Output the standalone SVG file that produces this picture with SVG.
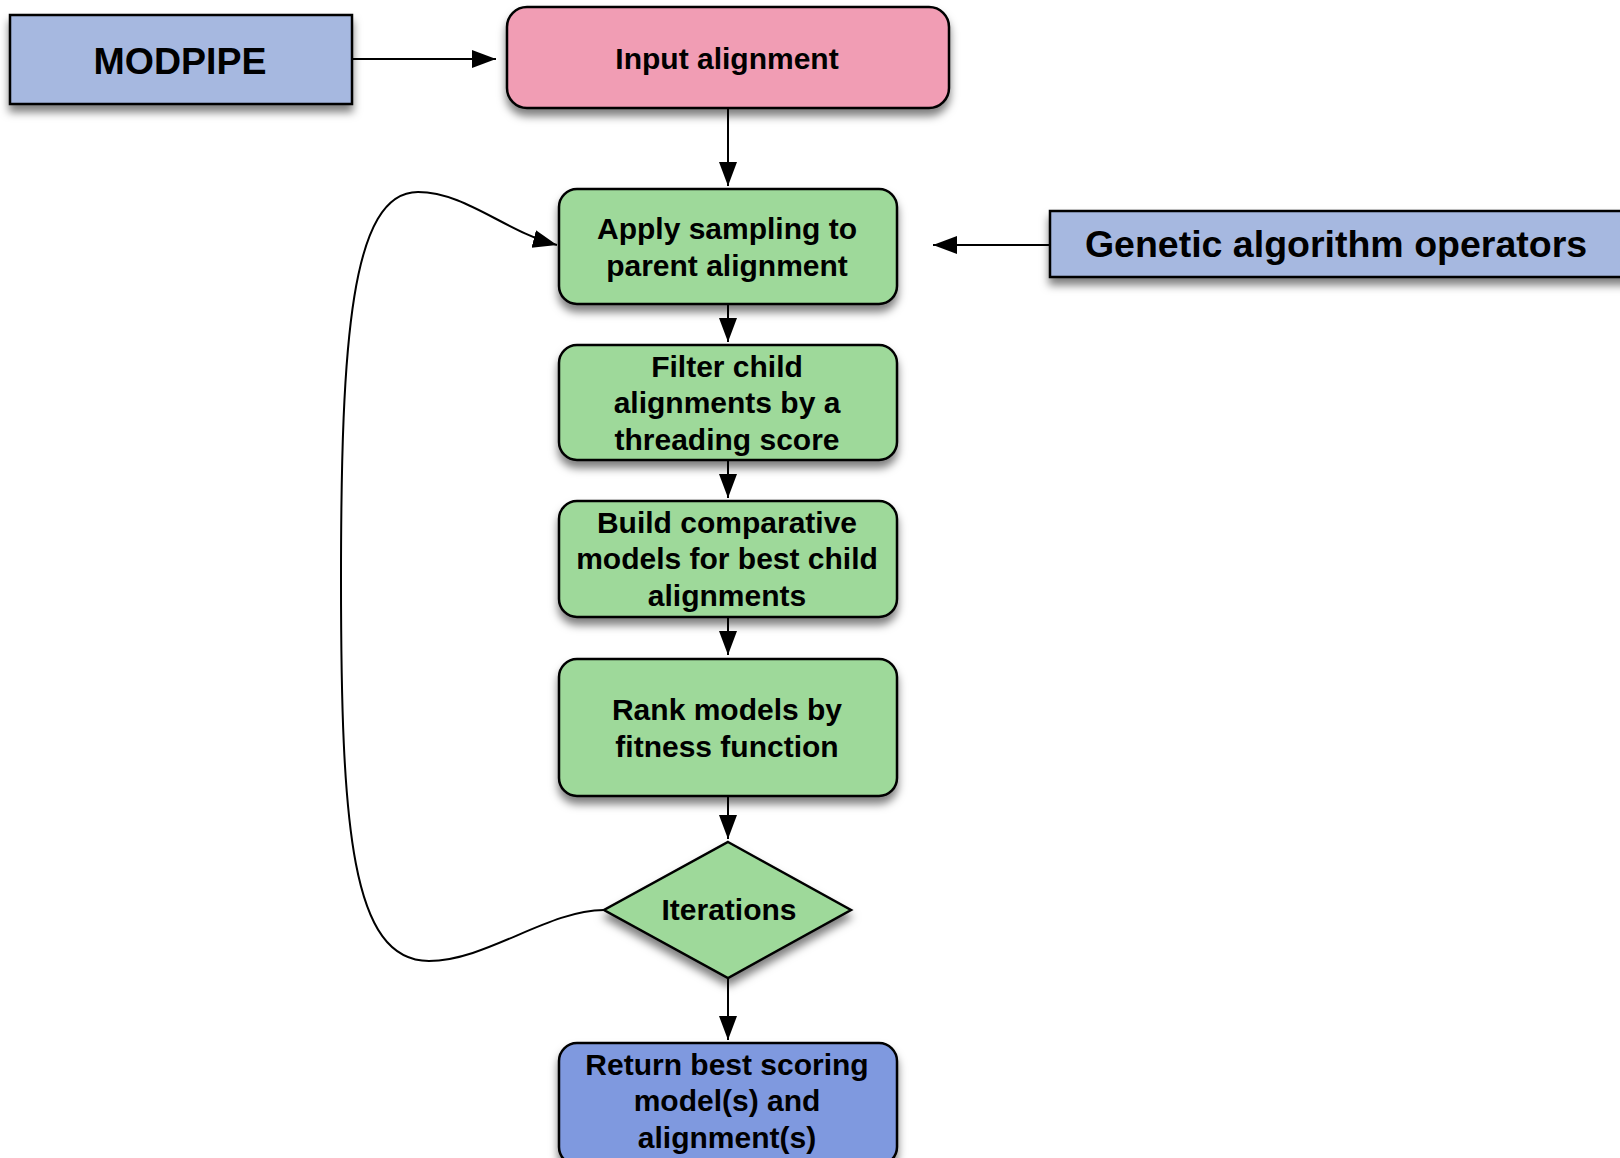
<svg xmlns="http://www.w3.org/2000/svg" width="1620" height="1158" viewBox="0 0 1620 1158">
  <style>
    .box { stroke: #000; stroke-width: 2.5; filter: url(#shadow); }
    .blue { fill: #A6B8E0; }
    .pink { fill: #F19DB4; }
    .green { fill: #9ED99A; }
    .final { fill: #7F99DF; }
    .lbl { font-family: "Liberation Sans", Arial, sans-serif; font-weight: bold; font-size: 30px; fill: #000; text-anchor: middle; dominant-baseline: central; }
    .big { font-size: 37.5px; }
    .edge { fill: none; stroke: #000; stroke-width: 2; marker-end: url(#arrow); }
  </style>
  <defs>
    <filter id="shadow" x="-10%" y="-20%" width="120%" height="160%">
      <feDropShadow dx="0" dy="7" stdDeviation="4" flood-color="#000" flood-opacity="0.5"/>
    </filter>
    <marker id="arrow" markerUnits="userSpaceOnUse" markerWidth="26" markerHeight="20" refX="24" refY="9" orient="auto">
      <path d="M0,0 L24,9 L0,18 z" fill="#000"/>
    </marker>
  </defs>
  <rect width="1620" height="1158" fill="#fff"/>

  <g id="connectors">
    <path class="edge" d="M352,59 L496,59"/>
    <path class="edge" d="M728,108 L728,186"/>
    <path class="edge" d="M1050,245 L933,245"/>
    <path class="edge" d="M728,304 L728,342"/>
    <path class="edge" d="M728,460 L728,498"/>
    <path class="edge" d="M728,617 L728,655"/>
    <path class="edge" d="M728,796 L728,839"/>
    <path class="edge" d="M728,978 L728,1040"/>
    <path class="edge" d="M604,910 C548,910 486,961 429,961 C351,961 341,827 341,579 C341,341 351,192 418,192 C465,192 506,232 557,245"/>
  </g>

  <g id="modpipe">
    <rect class="box blue" x="10" y="15" width="342" height="89"/>
    <text class="lbl big" x="180" y="61">MODPIPE</text>
  </g>

  <g id="input-alignment">
    <rect class="box pink" x="507" y="7" width="442" height="101" rx="20"/>
    <text class="lbl" x="727" y="58">Input alignment</text>
  </g>

  <g id="apply-sampling">
    <rect class="box green" x="559" y="189" width="338" height="115" rx="18"/>
    <text class="lbl" x="727" y="228">Apply sampling to</text>
    <text class="lbl" x="727" y="265">parent alignment</text>
  </g>

  <g id="ga-operators">
    <rect class="box blue" x="1050" y="211" width="590" height="66"/>
    <text class="lbl big" x="1336" y="244">Genetic algorithm operators</text>
  </g>

  <g id="filter-child">
    <rect class="box green" x="559" y="345" width="338" height="115" rx="18"/>
    <text class="lbl" x="727" y="366">Filter child</text>
    <text class="lbl" x="727" y="402">alignments by a</text>
    <text class="lbl" x="727" y="439">threading score</text>
  </g>

  <g id="build-models">
    <rect class="box green" x="559" y="501" width="338" height="116" rx="18"/>
    <text class="lbl" x="727" y="522">Build comparative</text>
    <text class="lbl" x="727" y="558">models for best child</text>
    <text class="lbl" x="727" y="595">alignments</text>
  </g>

  <g id="rank-models">
    <rect class="box green" x="559" y="659" width="338" height="137" rx="18"/>
    <text class="lbl" x="727" y="709">Rank models by</text>
    <text class="lbl" x="727" y="746">fitness function</text>
  </g>

  <g id="iterations">
    <polygon class="box green" points="728,842 851,910 728,978 604,910"/>
    <text class="lbl" x="729" y="909">Iterations</text>
  </g>

  <g id="return-best">
    <rect class="box final" x="559" y="1043" width="338" height="122" rx="18"/>
    <text class="lbl" x="727" y="1064">Return best scoring</text>
    <text class="lbl" x="727" y="1100">model(s) and</text>
    <text class="lbl" x="727" y="1137">alignment(s)</text>
  </g>
</svg>
